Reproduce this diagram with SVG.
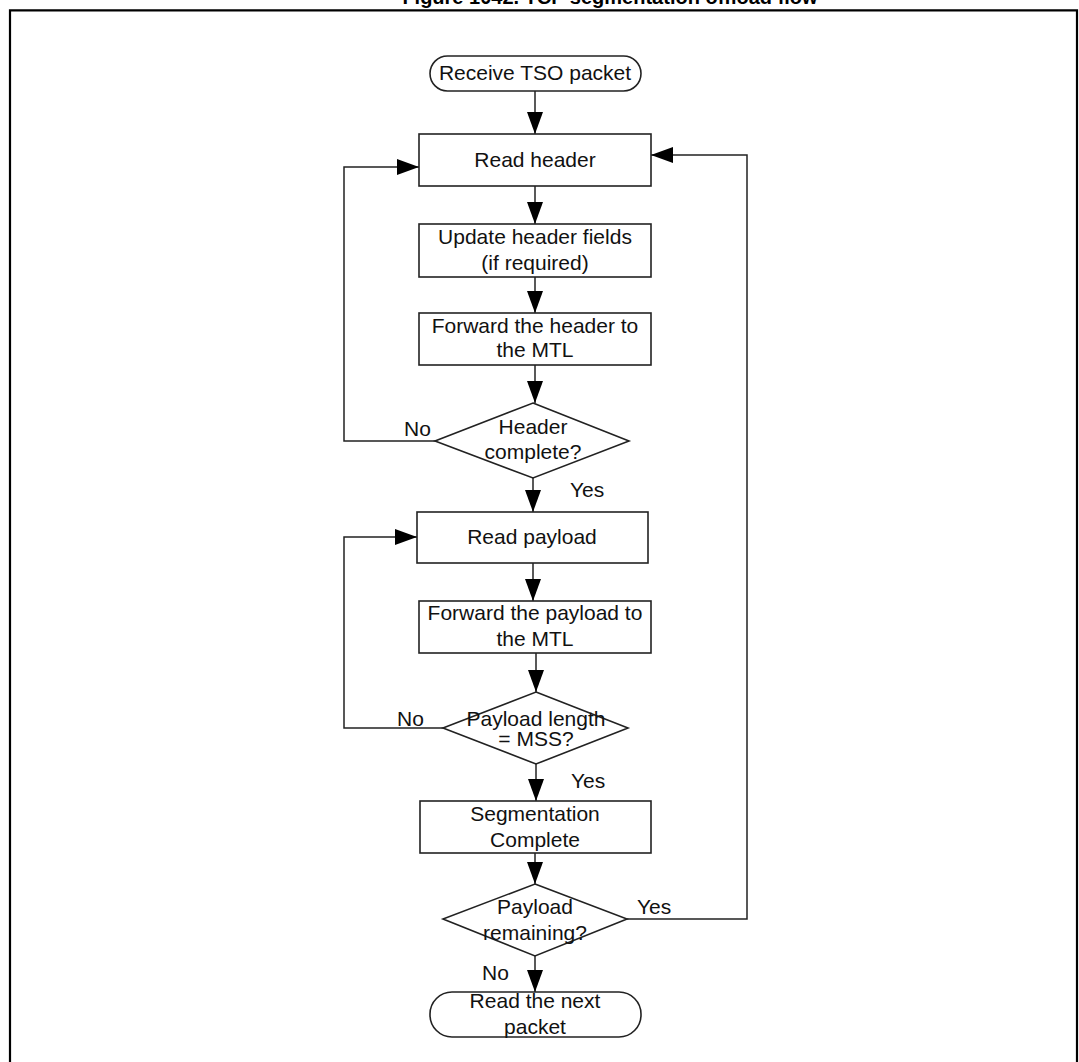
<svg xmlns="http://www.w3.org/2000/svg" width="1079" height="1062" viewBox="0 0 1079 1062">
<defs>
<style>
.t{font-family:"Liberation Sans",Arial,sans-serif;font-size:21px;fill:#111;text-anchor:middle}
.l{font-family:"Liberation Sans",Arial,sans-serif;font-size:21px;fill:#111}
.s{fill:#fff;stroke:#222;stroke-width:1.6}
.c{fill:none;stroke:#222;stroke-width:1.5}
.title{font-family:"Liberation Sans",Arial,sans-serif;font-size:20px;font-weight:bold;fill:#000;text-anchor:middle}
</style>
<marker id="ah" viewBox="0 0 22 16" refX="22" refY="8" markerWidth="22" markerHeight="16" markerUnits="userSpaceOnUse" orient="auto">
<path d="M0,0 L22,8 L0,16 Z" fill="#000"/>
</marker>
</defs>
<rect width="1079" height="1062" fill="#fff"/>
<text class="title" x="610" y="4">Figure 1042. TCP segmentation offload flow</text>
<path d="M10,1062 V10.3 H1077 V1062" fill="none" stroke="#000" stroke-width="2.2"/>

<g id="connectors">
<path class="c" d="M535,91 V134" marker-end="url(#ah)"/>
<path class="c" d="M535,186 V224" marker-end="url(#ah)"/>
<path class="c" d="M535,277 V313" marker-end="url(#ah)"/>
<path class="c" d="M535,365 V403" marker-end="url(#ah)"/>
<path class="c" d="M435,441 H344 V167 H419" marker-end="url(#ah)"/>
<path class="c" d="M533,478 V512" marker-end="url(#ah)"/>
<path class="c" d="M533,563 V601" marker-end="url(#ah)"/>
<path class="c" d="M536,653 V692" marker-end="url(#ah)"/>
<path class="c" d="M443,728 H344 V537 H417" marker-end="url(#ah)"/>
<path class="c" d="M536,764 V801" marker-end="url(#ah)"/>
<path class="c" d="M535,853 V884" marker-end="url(#ah)"/>
<path class="c" d="M627,919 H747 V155 H651" marker-end="url(#ah)"/>
<path class="c" d="M535,956 V992" marker-end="url(#ah)"/>
<text class="l" x="404" y="436">No</text>
<text class="l" x="570" y="497">Yes</text>
<text class="l" x="397" y="726">No</text>
<text class="l" x="571" y="788">Yes</text>
<text class="l" x="637" y="914">Yes</text>
<text class="l" x="482" y="980">No</text>
</g>

<g id="start">
<rect class="s" x="430" y="56" width="211" height="35" rx="17.5"/>
<text class="t" x="535" y="80">Receive TSO packet</text>
</g>
<g id="read-header">
<rect class="s" x="419" y="134" width="232" height="52"/>
<text class="t" x="535" y="167">Read header</text>
</g>
<g id="update-header">
<rect class="s" x="419" y="224" width="232" height="53"/>
<text class="t" x="535" y="244">Update header fields</text>
<text class="t" x="535" y="270">(if required)</text>
</g>
<g id="forward-header">
<rect class="s" x="419" y="313" width="232" height="52"/>
<text class="t" x="535" y="333">Forward the header to</text>
<text class="t" x="535" y="357">the MTL</text>
</g>
<g id="header-complete">
<polygon class="s" points="533,403 629,441 533,478 435,441"/>
<text class="t" x="533" y="434">Header</text>
<text class="t" x="533" y="459">complete?</text>
</g>
<g id="read-payload">
<rect class="s" x="417" y="512" width="231" height="51"/>
<text class="t" x="532" y="544">Read payload</text>
</g>
<g id="forward-payload">
<rect class="s" x="419" y="601" width="232" height="52"/>
<text class="t" x="535" y="620">Forward the payload to</text>
<text class="t" x="535" y="646">the MTL</text>
</g>
<g id="payload-length">
<polygon class="s" points="536,692 628,728 536,764 443,728"/>
<text class="t" x="536" y="726">Payload length</text>
<text class="t" x="536" y="746">= MSS?</text>
</g>
<g id="segmentation-complete">
<rect class="s" x="420" y="801" width="231" height="52"/>
<text class="t" x="535" y="821">Segmentation</text>
<text class="t" x="535" y="847">Complete</text>
</g>
<g id="payload-remaining">
<polygon class="s" points="535,884 627,919 535,956 443,919"/>
<text class="t" x="535" y="914">Payload</text>
<text class="t" x="535" y="940">remaining?</text>
</g>
<g id="end">
<rect class="s" x="430" y="992" width="211" height="45" rx="22"/>
<text class="t" x="535" y="1008">Read the next</text>
<text class="t" x="535" y="1034">packet</text>
</g>
</svg>
